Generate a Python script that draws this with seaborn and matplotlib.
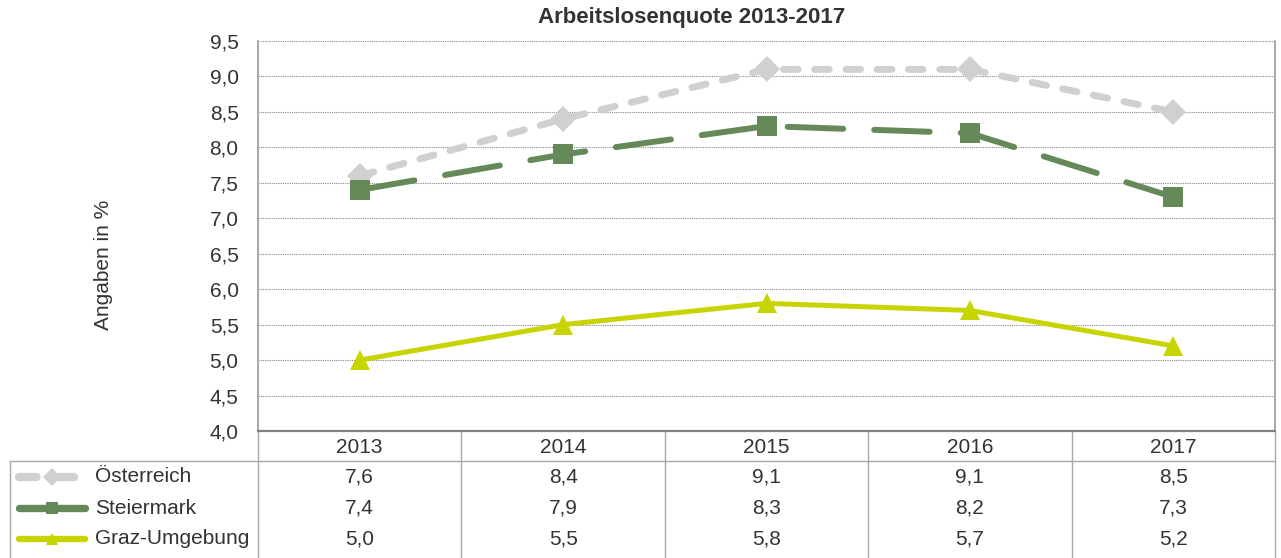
import matplotlib
matplotlib.use("Agg")
import matplotlib.pyplot as plt
import seaborn as sns
import pandas as pd

# Daten
jahre = ["2013", "2014", "2015", "2016", "2017"]
oesterreich = [7.6, 8.4, 9.1, 9.1, 8.5]
steiermark = [7.4, 7.9, 8.3, 8.2, 7.3]
graz_umgebung = [5.0, 5.5, 5.8, 5.7, 5.2]
regionen = ["Österreich", "Steiermark", "Graz-Umgebung"]
y_ticks = [4.0, 4.5, 5.0, 5.5, 6.0, 6.5, 7.0, 7.5, 8.0, 8.5, 9.0, 9.5]

farben = {"Österreich": "#D0D0D0", "Steiermark": "#66895A", "Graz-Umgebung": "#C8D400"}
marker = {"Österreich": "D", "Steiermark": "s", "Graz-Umgebung": "^"}
striche = {"Österreich": (2.1, 2.4), "Steiermark": (9.3, 5.2), "Graz-Umgebung": ""}
breiten = {"Österreich": 5.0, "Steiermark": 4.3, "Graz-Umgebung": 3.6}
msize = {"Österreich": 13, "Steiermark": 14.4, "Graz-Umgebung": 14.4}

werte = {"Österreich": oesterreich, "Steiermark": steiermark, "Graz-Umgebung": graz_umgebung}
df = pd.DataFrame([
    {"x": i, "Jahr": j, "Region": r, "Wert": werte[r][i]}
    for r in regionen for i, j in enumerate(jahre)
])

sns.set_style("white")
plt.rcParams['font.family'] = ['Liberation Sans', 'DejaVu Sans']

W, H = 1281, 558
fig = plt.figure(figsize=(W / 100, H / 100), dpi=100)
L, R, T, B = 258, 1275, 41, 431
ax = fig.add_axes([L / W, 1 - B / H, (R - L) / W, (B - T) / H])

for r in regionen:
    sub = df[df["Region"] == r]
    sns.lineplot(data=sub, x="x", y="Wert", ax=ax, color=farben[r],
                 marker=marker[r], markersize=msize[r], markeredgewidth=0,
                 linewidth=breiten[r], dashes=striche[r] if striche[r] else (None, None),
                 dash_capstyle="round", solid_capstyle="round", legend=False, zorder=3)

ax.set_xlim(-0.5, len(jahre) - 0.5)
ax.set_ylim(4.0, 9.5)
ax.set_yticks(y_ticks)
ax.set_yticklabels([f"{v:.1f}".replace(".", ",") for v in y_ticks], fontsize=15, color="#333333")
ax.set_xticks(range(len(jahre)))
ax.set_xticklabels(jahre, fontsize=15, color="#333333")
ax.tick_params(axis="x", length=0, pad=5)
ax.tick_params(axis="y", length=0, pad=14)
ax.set_xlabel("")
ax.set_ylabel("")
ax.yaxis.grid(True, linestyle=(0, (1, 1)), color="#888888", linewidth=0.8)
ax.xaxis.grid(False)
for s in ["left", "bottom", "right"]:
    ax.spines[s].set_visible(True)
    ax.spines[s].set_color("#9A9A9A")
    ax.spines[s].set_linewidth(1.2)
ax.spines["bottom"].set_color("#808080")
ax.spines["bottom"].set_linewidth(1.6)
ax.spines["top"].set_visible(False)


def ay(py):
    return (B - py) / (B - T)


def axx(px):
    return (px - L) / (R - L)


# Tabelle unter dem Diagramm
linie = dict(color="#A8A8A8", linewidth=1.0, transform=ax.transAxes, clip_on=False)
for k in range(len(jahre) + 1):
    ax.plot([k / len(jahre)] * 2, [0, ay(H + 2)], **linie)
ax.plot([axx(10), 1], [ay(461)] * 2, **linie)
ax.plot([axx(10)] * 2, [ay(461), ay(H + 2)], **linie)

zeilen = [477, 508, 539]
for r, py in zip(regionen, zeilen):
    ax.plot([axx(19), axx(52), axx(85)], [ay(py)] * 3, color=farben[r],
            linewidth=breiten[r] + 1.0, dashes=striche[r] if striche[r] else (None, None),
            marker=marker[r], markersize=9, markeredgewidth=0, markevery=[1],
            dash_capstyle="round", solid_capstyle="round",
            transform=ax.transAxes, clip_on=False)
    ax.text(axx(95), ay(py), r, fontsize=15, color="#333333", ha="left", va="center",
            transform=ax.transAxes)
    for i, v in enumerate(werte[r]):
        ax.text(i, ay(py), f"{v:.1f}".replace(".", ","), fontsize=15, color="#333333",
                ha="center", va="center", transform=ax.get_xaxis_transform())

fig.text(692 / W, 1 - 17 / H, "Arbeitslosenquote 2013-2017", fontsize=16,
         fontweight="bold", color="#333333", ha="center", va="center")
fig.text(103 / W, 1 - 265 / H, "Angaben in %", fontsize=15, color="#333333",
         rotation=90, ha="center", va="center")

fig.savefig("out.png", dpi=100)
